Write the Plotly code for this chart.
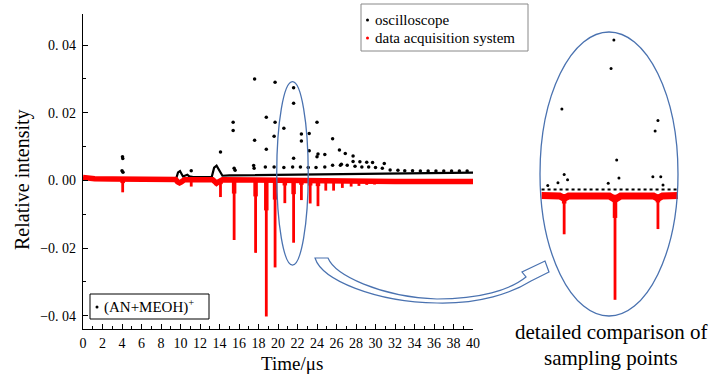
import plotly.graph_objects as go

# ---------------- data ----------------
# red: data acquisition system -- baseline band and negative spikes
red_base_t = [0, 0.4, 1.2, 3.0, 6.0, 9.5, 9.7, 9.9, 10.1, 10.4, 13.3, 13.5, 13.7, 13.9, 14.3, 20.0, 26.0, 32.0, 40.0]
red_base_v = [0.0009, 0.0007, 0.0005, 0.0004, 0.0004, 0.0003, -0.0004, -0.0007, -0.0004, 0.0002, 0.0002, -0.0005, -0.0008, -0.0004, 0.0002, 0.0001, -0.0002, -0.0003, -0.0003]
red_spike_t = [4.07, 9.85, 11.1, 13.6, 14.1, 15.5, 17.7, 18.8, 19.7, 20.7, 21.6, 22.4, 23.3, 24.1, 24.9, 25.7, 26.6, 27.5, 28.3, 29.1, 29.9, 30.7, 31.5]
red_spike_min = [-0.0035, -0.0012, -0.0018, -0.0014, -0.0049, -0.0176, -0.0214, -0.0402, -0.0257, -0.0067, -0.0184, -0.0058, -0.0068, -0.0076, -0.0030, -0.0030, -0.0022, -0.0018, -0.0016, -0.0013, -0.0012, -0.0009, -0.0008]

# black: oscilloscope -- baseline and sampled points
osc_base_t = [0, 9.55, 9.75, 9.95, 10.25, 10.5, 10.7, 10.9, 11.3, 13.2, 13.45, 13.7, 13.95, 14.3, 15.0, 20.0, 30.0, 40.0]
osc_base_v = [0.0005, 0.0005, 0.0024, 0.0028, 0.0012, 0.0016, 0.0017, 0.0012, 0.0010, 0.0010, 0.0038, 0.0044, 0.0030, 0.0014, 0.0015, 0.0017, 0.0021, 0.0023]
osc_pt_t = [4.05, 4.08, 4.0, 4.1, 11.1, 14.1, 15.4, 15.4, 15.5, 15.6, 17.6, 17.6, 17.5, 17.55,
            18.8, 18.8, 18.7, 19.7, 19.7, 19.6, 19.6, 20.6, 20.6, 21.6, 21.6, 21.6, 21.5,
            22.4, 22.4, 22.3, 23.2, 23.2, 23.1, 24.0, 24.0, 24.1, 23.9, 24.8, 24.8, 25.6, 25.6,
            26.3, 26.4, 26.5, 26.9, 27.1, 27.7, 27.7, 27.9, 28.4, 28.6, 29.1, 29.3, 29.7, 30.0,
            30.9, 30.7, 31.5, 32.3, 33.0, 33.8, 34.6, 35.4, 36.2, 37.0, 37.8, 38.6, 39.4]
osc_pt_v = [0.0070, 0.0065, 0.0029, 0.0024, 0.0029, 0.0084, 0.0172, 0.0148, 0.0036, 0.0030, 0.0300, 0.0119, 0.0044, 0.0036,
            0.0187, 0.0092, 0.0040, 0.0290, 0.0172, 0.0131, 0.0040, 0.0154, 0.0038, 0.0274, 0.0228, 0.0066, 0.0040,
            0.0137, 0.0117, 0.0040, 0.0139, 0.0088, 0.0038, 0.0172, 0.0070, 0.0078, 0.0038, 0.0077, 0.0040, 0.0123, 0.0045,
            0.0090, 0.0045, 0.0048, 0.0080, 0.0045, 0.0072, 0.0056, 0.0042, 0.0055, 0.0040, 0.0054, 0.0040, 0.0053, 0.0038,
            0.0050, 0.0036, 0.0031, 0.0030, 0.0029, 0.0029, 0.0028, 0.0028, 0.0028, 0.0028, 0.0028, 0.0028, 0.0028]

# inset (detailed comparison) -- zoom of 20.3 .. 22.7 us
ins_red_base_t = [20.30, 20.62, 20.70, 20.78, 21.50, 21.60, 21.70, 22.28, 22.36, 22.44, 22.72]
ins_red_base_v = [-0.0001, -0.0002, -0.0006, -0.0002, -0.0002, -0.0008, -0.0002, -0.0002, -0.0006, -0.0002, -0.0001]
ins_spike_t = [20.70, 21.60, 22.36]
ins_spike_min = [-0.0068, -0.0181, -0.0059]
ins_osc_base_t = [20.30, 22.72]
ins_osc_base_v = [0.0009, 0.0009]
ins_osc_t = [21.58, 21.53, 20.66, 22.36, 22.31, 21.63, 20.70, 20.76, 21.67, 21.48, 22.27, 22.41, 22.45, 20.59, 20.41]
ins_osc_v = [0.0267, 0.0218, 0.0148, 0.0128, 0.0110, 0.0060, 0.0035, 0.0026, 0.0029, 0.0020, 0.0031, 0.0031, 0.0017, 0.0021, 0.0016]

y_tickvals = [-0.04, -0.02, 0.0, 0.02, 0.04]
y_ticktext = ["\u22120. 04", "\u22120. 02", "0. 00", "0. 02", "0. 04"]

# ---------------- layout helpers (pixels -> paper) ----------------
W, H = 710, 379
def px(x):
    return x / W
def py(y):
    return 1 - y / H

RED = "#ff0000"
BLUE = "#4a72b0"
FONT = "Liberation Serif"

def spikes(ts, mins, frac=1.0):
    xs, ys = [], []
    for t, m in zip(ts, mins):
        xs += [t, t, None]
        ys += [0.0, m * frac, None]
    return xs, ys

fig = go.Figure()

def add_red(ts_base, vs_base, ts_sp, mins, band_w, axes):
    fig.add_trace(go.Scatter(x=ts_base, y=vs_base, mode="lines", xaxis=axes[0], yaxis=axes[1],
                             line=dict(color=RED, width=band_w), showlegend=False, hoverinfo="skip"))
    ax, ay = spikes(ts_sp, mins, 0.22)
    fig.add_trace(go.Scatter(x=ax, y=ay, mode="lines", xaxis=axes[0], yaxis=axes[1],
                             line=dict(color=RED, width=4.5), showlegend=False, hoverinfo="skip"))
    sx, sy = spikes(ts_sp, mins)
    fig.add_trace(go.Scatter(x=sx, y=sy, mode="lines", xaxis=axes[0], yaxis=axes[1],
                             line=dict(color=RED, width=2.8), showlegend=False, hoverinfo="skip"))

# main plot
fig.add_trace(go.Scatter(x=osc_base_t, y=osc_base_v, mode="lines",
                         line=dict(color="black", width=2.2), showlegend=False, hoverinfo="skip"))
add_red(red_base_t, red_base_v, red_spike_t, red_spike_min, 5.5, ("x", "y"))
fig.add_trace(go.Scatter(x=osc_pt_t, y=osc_pt_v, mode="markers",
                         marker=dict(color="black", size=3.5), showlegend=False, hoverinfo="skip"))

# inset
fig.add_trace(go.Scatter(x=ins_osc_base_t, y=ins_osc_base_v, mode="lines", xaxis="x2", yaxis="y2",
                         line=dict(color="black", width=2, dash="dot"), showlegend=False, hoverinfo="skip"))
add_red(ins_red_base_t, ins_red_base_v, ins_spike_t, ins_spike_min, 7, ("x2", "y2"))
fig.add_trace(go.Scatter(x=ins_osc_t, y=ins_osc_v, mode="markers", xaxis="x2", yaxis="y2",
                         marker=dict(color="black", size=3), showlegend=False, hoverinfo="skip"))

tickfont = dict(family=FONT, size=14, color="black")
fig.update_layout(
    width=W, height=H,
    margin=dict(l=0, r=0, t=0, b=0),
    paper_bgcolor="white", plot_bgcolor="rgba(0,0,0,0)",
    showlegend=False,
    xaxis=dict(domain=[px(83), px(473)], range=[0, 40], anchor="y",
               tickmode="linear", tick0=0, dtick=2, ticks="inside", ticklen=5, tickwidth=1,
               tickcolor="black", minor=dict(dtick=1, ticks="inside", ticklen=3, tickcolor="black"),
               showline=True, linecolor="black", linewidth=1.3, showgrid=False, zeroline=False,
               tickfont=tickfont, automargin=False, ticklabelstandoff=1),
    yaxis=dict(domain=[py(329), py(14)], range=[-0.0439, 0.0492], anchor="x",
               tickmode="array", tickvals=y_tickvals, ticktext=y_ticktext,
               ticks="inside", ticklen=5, tickwidth=1, tickcolor="black",
               minor=dict(tickvals=[-0.03, -0.01, 0.01, 0.03], ticks="inside", ticklen=3, tickcolor="black"),
               showline=True, linecolor="black", linewidth=1.3, showgrid=False, zeroline=False,
               tickfont=tickfont, automargin=False, ticklabelstandoff=3),
    xaxis2=dict(domain=[px(541), px(678)], range=[20.29, 22.715], anchor="y2",
                visible=False, showgrid=False, zeroline=False),
    yaxis2=dict(domain=[py(315), py(32)], range=[-0.02072, 0.02808], anchor="x2",
                visible=False, showgrid=False, zeroline=False),
)

shapes = []
# small ellipse in main plot (data coords)
shapes.append(dict(type="circle", xref="x", yref="y", x0=19.87, x1=23.1, y0=-0.025, y1=0.0292,
                   line=dict(color=BLUE, width=1.3)))
# inset ellipse
shapes.append(dict(type="circle", xref="paper", yref="paper", x0=px(540), x1=px(678), y0=py(316), y1=py(32),
                   line=dict(color=BLUE, width=1.3)))
# curved block arrow
def P(x, y):
    return f"{px(x):.5f},{py(y):.5f}"
arrow = ("M " + P(315, 258) + " L " + P(328, 258) +
         " C " + P(335, 275) + " " + P(380, 297) + " " + P(437, 299) +
         " C " + P(480, 299) + " " + P(510, 290) + " " + P(526, 277) +
         " L " + P(522, 272) + " L " + P(545, 261) + " L " + P(549, 272) + " L " + P(531, 281) +
         " C " + P(512, 293) + " " + P(480, 304) + " " + P(437, 303) +
         " C " + P(375, 302) + " " + P(322, 280) + " " + P(315, 258) + " Z")
shapes.append(dict(type="path", xref="paper", yref="paper", path=arrow,
                   line=dict(color=BLUE, width=1.2), fillcolor="white"))
# legend box
shapes.append(dict(type="rect", xref="paper", yref="paper", x0=px(361), x1=px(528), y0=py(51), y1=py(4),
                   line=dict(color="#888888", width=1), fillcolor="white"))
shapes.append(dict(type="circle", xref="paper", yref="paper", x0=px(366), x1=px(369), y0=py(21.5), y1=py(18.5),
                   line=dict(width=0), fillcolor="black"))
shapes.append(dict(type="circle", xref="paper", yref="paper", x0=px(366), x1=px(369), y0=py(39.5), y1=py(36.5),
                   line=dict(width=0), fillcolor=RED))
# species box
shapes.append(dict(type="rect", xref="paper", yref="paper", x0=px(90), x1=px(209), y0=py(319), y1=py(294),
                   line=dict(color="black", width=1), fillcolor="white"))
shapes.append(dict(type="circle", xref="paper", yref="paper", x0=px(95.5), x1=px(98.5), y0=py(308.5), y1=py(305.5),
                   line=dict(width=0), fillcolor="black"))
fig.update_layout(shapes=shapes)

def txt(x, y, s, size, xanchor="center", angle=0):
    return dict(x=px(x), y=py(y), xref="paper", yref="paper", text=s, showarrow=False,
                xanchor=xanchor, yanchor="middle", textangle=angle,
                font=dict(family=FONT, size=size, color="black"))

fig.update_layout(annotations=[
    txt(22, 180, "Relative intensity", 20, angle=-90),
    txt(292, 363, "Time/\u03bcs", 19),
    txt(373, 20, "oscilloscope", 15, xanchor="left"),
    txt(373, 38, "data acquisition system", 15, xanchor="left"),
    txt(102, 306, "(AN+MEOH)<sup>+</sup>", 15, xanchor="left"),
    txt(611, 332, "detailed comparison of", 21),
    txt(611, 358, "sampling points", 21),
])

fig.write_html("out.html", config={"displayModeBar": False},
               post_script="document.body.style.margin='0px';")
